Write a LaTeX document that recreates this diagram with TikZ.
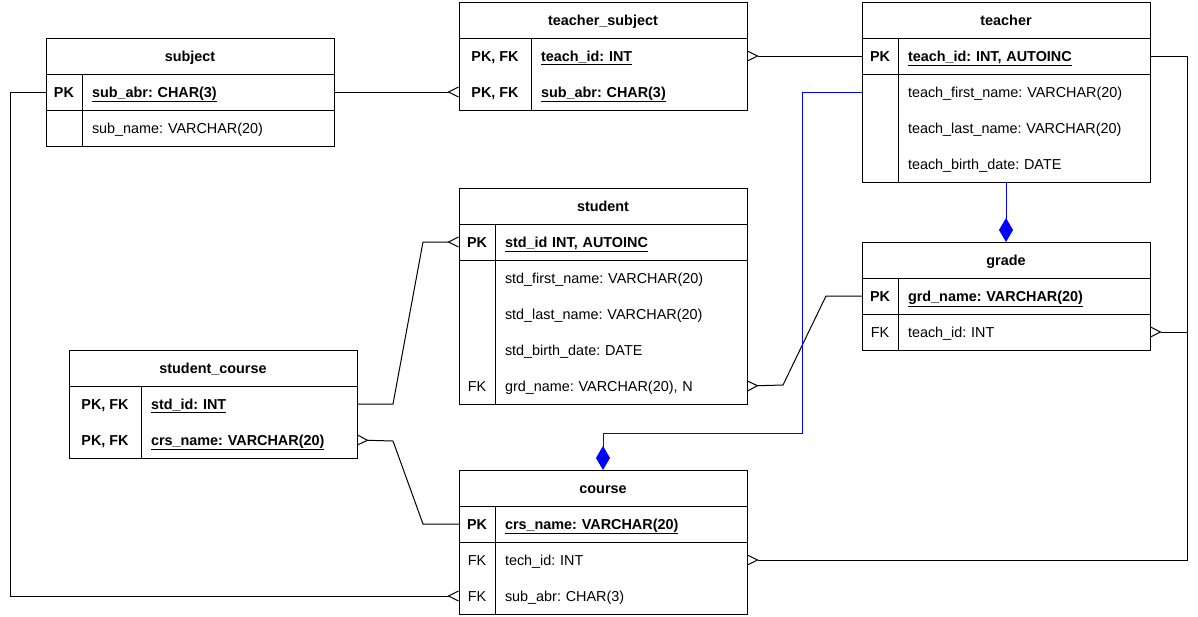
\documentclass[tikz,border=0pt]{standalone}
\usepackage{fontspec}
\setmainfont{Liberation Sans}
\usetikzlibrary{arrows.meta}
\newcommand\pkf[1]{\underline{\textbf{#1}}}

\begin{document}
\frenchspacing
\begin{tikzpicture}[x=1pt,y=-1pt,line width=1pt,
  every node/.style={inner sep=0pt,outer sep=0pt,text height=10.5pt,text depth=0pt,font=\fontsize{14.4}{17}\selectfont},
  hdr/.style={anchor=north west,minimum width=288pt,minimum height=36pt,font=\fontsize{14.4}{17}\selectfont\bfseries},
  keyc/.style={anchor=north west,minimum width=36pt,minimum height=36pt},
  widekey/.style={keyc,minimum width=72pt},
  fld/.style={anchor=north west,minimum height=36pt,inner xsep=10pt,text width=#1,align=left},
  fld/.default=232pt,
  many/.style={-{Straight Barb[reversed,length=10pt,width=10pt]}},
  owner/.style={draw=blue,-{Diamond[fill=blue,length=24pt,width=14pt]}}]
\useasboundingbox (0,0) rectangle (1198,616);

% subject
\node[hdr] (sub) at (46,38) {subject};
\node[keyc] (subk1) at (sub.south west) {\textbf{PK}};
\node[fld] (subf1) at (subk1.north east) {\pkf{sub\_abr: CHAR(3)}};
\node[keyc] (subk2) at (subk1.south west) {};
\node[fld] (subf2) at (subk2.north east) {sub\_name: VARCHAR(20)};
\draw (sub.north west) rectangle (subf2.south east);
\draw (sub.south west) -- (sub.south east) (subk1.south west) -- (subf1.south east);
\draw (subk1.north east) -- (subk2.south east);

% teacher_subject
\node[hdr] (tsub) at (459,2) {teacher\_subject};
\node[widekey] (tsubk1) at (tsub.south west) {\textbf{PK, FK}};
\node[fld=196pt] (tsubf1) at (tsubk1.north east) {\pkf{teach\_id: INT}};
\node[widekey] (tsubk2) at (tsubk1.south west) {\textbf{PK, FK}};
\node[fld=196pt] (tsubf2) at (tsubk2.north east) {\pkf{sub\_abr: CHAR(3)}};
\draw (tsub.north west) rectangle (tsubf2.south east);
\draw (tsub.south west) -- (tsub.south east);
\draw (tsubk1.north east) -- (tsubk2.south east);

% teacher
\node[hdr] (teach) at (862,2) {teacher};
\node[keyc] (teachk1) at (teach.south west) {\textbf{PK}};
\node[fld] (teachf1) at (teachk1.north east) {\pkf{teach\_id: INT, AUTOINC}};
\node[keyc] (teachk2) at (teachk1.south west) {};
\node[fld] (teachf2) at (teachk2.north east) {teach\_first\_name: VARCHAR(20)};
\node[keyc] (teachk3) at (teachk2.south west) {};
\node[fld] (teachf3) at (teachk3.north east) {teach\_last\_name: VARCHAR(20)};
\node[keyc] (teachk4) at (teachk3.south west) {};
\node[fld] (teachf4) at (teachk4.north east) {teach\_birth\_date: DATE};
\draw (teach.north west) rectangle (teachf4.south east);
\draw (teach.south west) -- (teach.south east) (teachk1.south west) -- (teachf1.south east);
\draw (teachk1.north east) -- (teachk4.south east);

% student
\node[hdr] (std) at (459,188) {student};
\node[keyc] (stdk1) at (std.south west) {\textbf{PK}};
\node[fld] (stdf1) at (stdk1.north east) {\pkf{std\_id INT, AUTOINC}};
\node[keyc] (stdk2) at (stdk1.south west) {};
\node[fld] (stdf2) at (stdk2.north east) {std\_first\_name: VARCHAR(20)};
\node[keyc] (stdk3) at (stdk2.south west) {};
\node[fld] (stdf3) at (stdk3.north east) {std\_last\_name: VARCHAR(20)};
\node[keyc] (stdk4) at (stdk3.south west) {};
\node[fld] (stdf4) at (stdk4.north east) {std\_birth\_date: DATE};
\node[keyc] (stdk5) at (stdk4.south west) {FK};
\node[fld] (stdf5) at (stdk5.north east) {grd\_name: VARCHAR(20), N};
\draw (std.north west) rectangle (stdf5.south east);
\draw (std.south west) -- (std.south east) (stdk1.south west) -- (stdf1.south east);
\draw (stdk1.north east) -- (stdk5.south east);

% grade
\node[hdr] (grd) at (862,242) {grade};
\node[keyc] (grdk1) at (grd.south west) {\textbf{PK}};
\node[fld] (grdf1) at (grdk1.north east) {\pkf{grd\_name: VARCHAR(20)}};
\node[keyc] (grdk2) at (grdk1.south west) {FK};
\node[fld] (grdf2) at (grdk2.north east) {teach\_id: INT};
\draw (grd.north west) rectangle (grdf2.south east);
\draw (grd.south west) -- (grd.south east) (grdk1.south west) -- (grdf1.south east);
\draw (grdk1.north east) -- (grdk2.south east);

% student_course
\node[hdr] (sc) at (69,350) {student\_course};
\node[widekey] (sck1) at (sc.south west) {\textbf{PK, FK}};
\node[fld=196pt] (scf1) at (sck1.north east) {\pkf{std\_id: INT}};
\node[widekey] (sck2) at (sck1.south west) {\textbf{PK, FK}};
\node[fld=196pt] (scf2) at (sck2.north east) {\pkf{crs\_name: VARCHAR(20)}};
\draw (sc.north west) rectangle (scf2.south east);
\draw (sc.south west) -- (sc.south east);
\draw (sck1.north east) -- (sck2.south east);

% course
\node[hdr] (crs) at (459,470) {course};
\node[keyc] (crsk1) at (crs.south west) {\textbf{PK}};
\node[fld] (crsf1) at (crsk1.north east) {\pkf{crs\_name: VARCHAR(20)}};
\node[keyc] (crsk2) at (crsk1.south west) {FK};
\node[fld] (crsf2) at (crsk2.north east) {tech\_id: INT};
\node[keyc] (crsk3) at (crsk2.south west) {FK};
\node[fld] (crsf3) at (crsk3.north east) {sub\_abr: CHAR(3)};
\draw (crs.north west) rectangle (crsf3.south east);
\draw (crs.south west) -- (crs.south east) (crsk1.south west) -- (crsf1.south east);
\draw (crsk1.north east) -- (crsk3.south east);

% relations
\draw[many] (subf1.east) -- (tsubk2.west);
\draw[many] (teachk1.west) -- (tsubf1.east);
\draw[many] (subk1.west) -- ++(-36,0) |- (crsk3.west);
\draw[many] (teachf1.east) -- ++(37,0) |- (grdf2.east);
\draw[many] (teachf1.east) -- ++(37,0) |- (crsf2.east);
\draw[many] (grdk1.west) -- ++(-36,0) -- ++(-43,89) -- (stdf5.east);
\draw[many] (scf1.east) -- ++(36,0) -- ++(30,-162) -- (stdk1.west);
\draw[many] (crsk1.west) -- ++(-36,0) -- ++(-30,-83) -- (scf2.east);
\draw[owner] (teachf4.south -| teach.south) -- (grd.north);
\draw[owner] (teachk2.west) -- ++(-60,0) -- ++(0,341) -| (crs.north);
\end{tikzpicture}
\end{document}
